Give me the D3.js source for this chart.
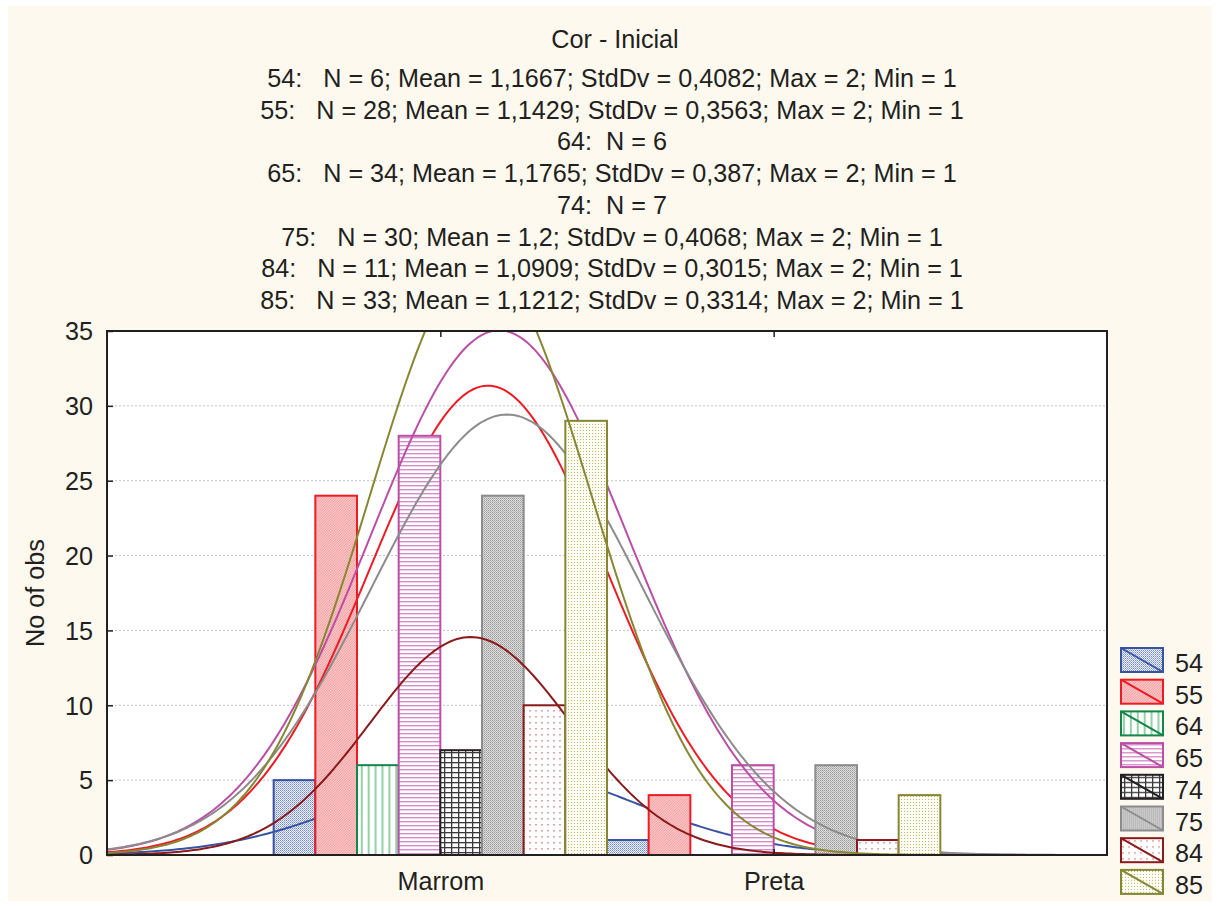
<!DOCTYPE html>
<html>
<head>
<meta charset="utf-8">
<script src="https://cdn.jsdelivr.net/npm/d3@7"></script>
<style>
  body { margin: 0; background: #fff; }
  svg { display: block; font-family: "Liberation Sans", Arial, sans-serif; }
  .stats text { white-space: pre; }
</style>
</head>
<body>
<div id="wrapper"></div>
<script>
// data
const groups = ["54", "55", "64", "65", "74", "75", "84", "85"];
const categories = ["Marrom", "Preta"];
const marromCounts = [5, 24, 6, 28, 7, 24, 10, 29];
const pretaCounts = [1, 4, 0, 6, 0, 6, 1, 4];
const nValues = [6, 28, 6, 34, 7, 30, 11, 33];
const means = [1.1667, 1.1429, null, 1.1765, null, 1.2, 1.0909, 1.1212];
const stdDevs = [0.4082, 0.3563, null, 0.387, null, 0.4068, 0.3015, 0.3314];
const maxValues = [2, 2, null, 2, null, 2, 2, 2];
const minValues = [1, 1, null, 1, null, 1, 1, 1];
const yTicks = [0, 5, 10, 15, 20, 25, 30, 35];
const title = "Cor - Inicial";
const yLabel = "No of obs";

// styles
const colors = ["#3953a4", "#ed1c24", "#13864a", "#bb4fa6", "#231f20", "#8c8c8c", "#8b1a1a", "#878733"];
const fontSize = 25.2;

const width = 1218, height = 907;
const dims = { left: 107, right: 1107, top: 331, bottom: 855 };

const svg = d3.select("#wrapper").append("svg")
    .attr("width", width)
    .attr("height", height);

svg.append("rect")
    .attr("x", 8).attr("y", 6)
    .attr("width", 1204).attr("height", 895)
    .attr("fill", "#fdf9ef");

const defs = svg.append("defs");

// fill patterns, one per group
function pat(id, w, h, bg) {
    const p = defs.append("pattern").attr("id", id)
        .attr("patternUnits", "userSpaceOnUse")
        .attr("width", w).attr("height", h);
    p.append("rect").attr("width", w).attr("height", h).attr("fill", bg);
    return p;
}
let p;
p = pat("p0", 2, 2, "#eef1fa");
p.append("rect").attr("x", 0).attr("y", 0).attr("width", 1).attr("height", 1).attr("fill", "#7489cb");
p.append("rect").attr("x", 1).attr("y", 1).attr("width", 1).attr("height", 1).attr("fill", "#9fb0df");
p = pat("p1", 2.5, 2.5, "#fde3e3");
p.append("path").attr("d", "M0,2.5 L2.5,0 M-1,1 L1,-1 M1.5,3.5 L3.5,1.5").attr("stroke", "#f28a8d").attr("stroke-width", 0.9);
p = pat("p2", 6.9, 10, "#ffffff");
p.append("rect").attr("x", 2).attr("y", 0).attr("width", 2).attr("height", 10).attr("fill", "#94cfa6");
p = pat("p3", 10, 4, "#ffffff");
p.append("rect").attr("x", 0).attr("y", 1).attr("width", 10).attr("height", 1.4).attr("fill", "#d48fc8");
p = pat("p4", 7, 5, "#ffffff");
p.append("rect").attr("x", 0).attr("y", 2).attr("width", 7).attr("height", 1.3).attr("fill", "#3a3a3a");
p.append("rect").attr("x", 3).attr("y", 0).attr("width", 1.3).attr("height", 5).attr("fill", "#3a3a3a");
p = pat("p5", 2, 2, "#dcdcdc");
p.append("rect").attr("x", 0).attr("y", 0).attr("width", 1).attr("height", 1).attr("fill", "#9c9c9c");
p.append("rect").attr("x", 1).attr("y", 1).attr("width", 1).attr("height", 1).attr("fill", "#b4b4b4");
p = pat("p6", 6, 6, "#ffffff");
p.append("rect").attr("x", 1).attr("y", 2).attr("width", 2).attr("height", 1.5).attr("fill", "#dba6a6");
p = pat("p7", 3, 3, "#fdfdf4");
p.append("rect").attr("x", 1).attr("y", 1).attr("width", 1).attr("height", 1).attr("fill", "#b7b777");

// text block
const fmt = v => String(v).replace(".", ",");
const statLines = groups.map((g, i) => stdDevs[i] == null
    ? `${g}:  N = ${nValues[i]}`
    : `${g}:   N = ${nValues[i]}; Mean = ${fmt(means[i])}; StdDv = ${fmt(stdDevs[i])}; Max = ${maxValues[i]}; Min = ${minValues[i]}`);

svg.append("text")
    .attr("x", 615).attr("y", 48)
    .attr("text-anchor", "middle")
    .attr("font-size", fontSize)
    .attr("fill", "#231f20")
    .text(title);

svg.append("g").attr("class", "stats")
    .selectAll("text")
    .data(statLines)
    .enter().append("text")
    .attr("x", 612)
    .attr("y", (d, i) => 87 + i * 31.7)
    .attr("text-anchor", "middle")
    .attr("font-size", fontSize)
    .attr("fill", "#231f20")
    .text(d => d);

// scales
const xScale = d3.scaleLinear()
    .domain([0, 3])
    .range([dims.left, dims.right]);
const yScale = d3.scaleLinear()
    .domain([0, 35])
    .range([dims.bottom, dims.top]);

const plot = svg.append("g");
plot.append("rect")
    .attr("x", dims.left).attr("y", dims.top)
    .attr("width", dims.right - dims.left)
    .attr("height", dims.bottom - dims.top)
    .attr("fill", "#ffffff");

defs.append("clipPath").attr("id", "clip")
    .append("rect")
    .attr("x", dims.left).attr("y", dims.top)
    .attr("width", dims.right - dims.left)
    .attr("height", dims.bottom - dims.top);

// grid lines
plot.append("g")
    .selectAll("line")
    .data(yTicks.filter(t => t > 0 && t < 35))
    .enter().append("line")
    .attr("x1", dims.left).attr("x2", dims.right)
    .attr("y1", d => yScale(d)).attr("y2", d => yScale(d))
    .attr("stroke", "#c4c4c4")
    .attr("stroke-dasharray", "2,2");

// bars + fitted normal curves, drawn group by group
const barW = 1 / groups.length;
const catCounts = [marromCounts, pretaCounts];
const clipped = plot.append("g").attr("clip-path", "url(#clip)");

groups.forEach((g, i) => {
    const bars = catCounts.map((counts, c) => ({ x0: c + 1 - 0.5 + i * barW, v: counts[i] }))
        .filter(d => d.v > 0);
    clipped.append("g")
        .selectAll("rect")
        .data(bars)
        .enter().append("rect")
        .attr("x", d => xScale(d.x0))
        .attr("y", d => yScale(d.v))
        .attr("width", xScale(barW) - xScale(0))
        .attr("height", d => yScale(0) - yScale(d.v))
        .attr("fill", `url(#p${i})`)
        .attr("stroke", colors[i])
        .attr("stroke-width", 2);

    if (stdDevs[i] != null) {
        const sd = stdDevs[i], mu = means[i], n = nValues[i];
        const pts = d3.range(0, 3.0001, 0.01).map(x =>
            [x, n / (sd * Math.sqrt(2 * Math.PI)) * Math.exp(-0.5 * ((x - mu) / sd) ** 2)]);
        clipped.append("path")
            .datum(pts)
            .attr("fill", "none")
            .attr("stroke", colors[i])
            .attr("stroke-width", 2)
            .attr("d", d3.line().x(d => xScale(d[0])).y(d => yScale(d[1])));
    }
});

// frame
svg.append("rect")
    .attr("x", dims.left).attr("y", dims.top)
    .attr("width", dims.right - dims.left)
    .attr("height", dims.bottom - dims.top)
    .attr("fill", "none")
    .attr("stroke", "#231f20")
    .attr("stroke-width", 2);

// axes
const yAxis = svg.append("g")
    .attr("transform", `translate(${dims.left},0)`)
    .call(d3.axisLeft(yScale).tickValues(yTicks).tickSize(-6).tickPadding(14));
yAxis.select(".domain").remove();
yAxis.selectAll("text")
    .attr("font-size", fontSize)
    .attr("font-family", "Liberation Sans, Arial, sans-serif")
    .attr("fill", "#231f20")
    .attr("dy", "0.35em");
yAxis.selectAll("line").attr("stroke", "#231f20").attr("stroke-width", 1.5);

const xAxis = svg.append("g")
    .attr("transform", `translate(0,${dims.bottom})`)
    .call(d3.axisBottom(xScale).tickValues([1, 2]).tickFormat((d, i) => categories[i]).tickSize(-6));
xAxis.select(".domain").remove();
xAxis.selectAll("text")
    .attr("font-size", fontSize)
    .attr("font-family", "Liberation Sans, Arial, sans-serif")
    .attr("fill", "#231f20")
    .attr("dy", null)
    .attr("y", 35);
xAxis.selectAll("line").attr("stroke", "#231f20").attr("stroke-width", 1.5);

const xTop = svg.append("g")
    .attr("transform", `translate(0,${dims.top})`)
    .call(d3.axisTop(xScale).tickValues([1, 2]).tickFormat("").tickSize(-6));
xTop.select(".domain").remove();
xTop.selectAll("line").attr("stroke", "#231f20").attr("stroke-width", 1.5);

svg.append("text")
    .attr("transform", `translate(44,${(dims.top + dims.bottom) / 2}) rotate(-90)`)
    .attr("text-anchor", "middle")
    .attr("font-size", fontSize)
    .attr("fill", "#231f20")
    .text(yLabel);

// legend
const legend = svg.append("g")
    .selectAll("g")
    .data(groups)
    .enter().append("g")
    .attr("transform", (d, i) => `translate(1121,${648 + i * 31.7})`);
legend.append("rect")
    .attr("width", 42).attr("height", 24)
    .attr("fill", (d, i) => `url(#p${i})`)
    .attr("stroke", (d, i) => colors[i])
    .attr("stroke-width", 2);
legend.append("line")
    .attr("x1", 0).attr("y1", 0).attr("x2", 42).attr("y2", 24)
    .attr("stroke", (d, i) => colors[i])
    .attr("stroke-width", 2);
legend.append("text")
    .attr("x", 54).attr("y", 24)
    .attr("font-size", fontSize)
    .attr("fill", "#231f20")
    .text(d => d);
</script>
</body>
</html>
